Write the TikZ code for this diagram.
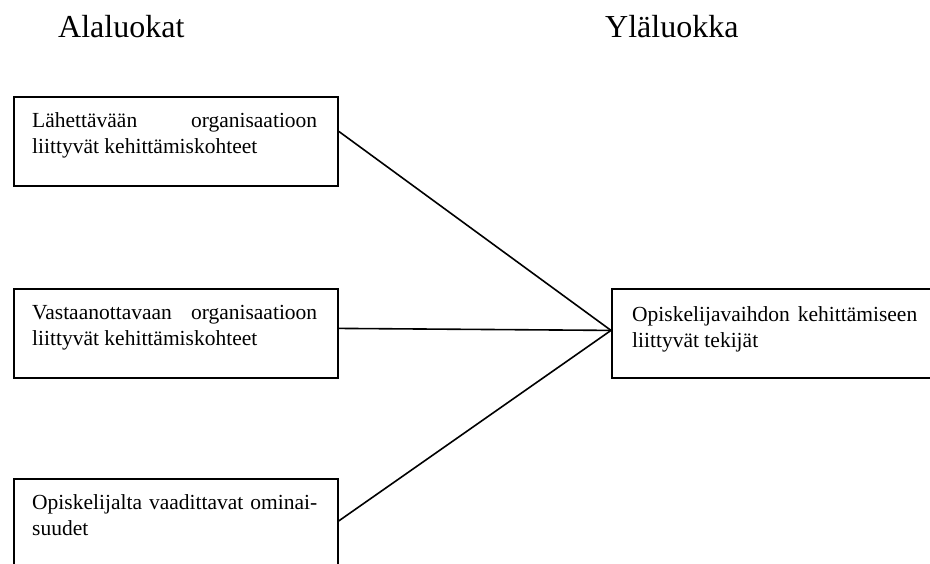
\documentclass[tikz,border=0pt]{standalone}
\usepackage{fontspec}
\setmainfont{Liberation Serif}
\newcommand\myboxfont{\fontsize{21.5pt}{26.5pt}\selectfont\hyphenpenalty=10000 \exhyphenpenalty=10000 }
\newcommand\myheadfont{\fontsize{32pt}{38pt}\selectfont}
\begin{document}
\begin{tikzpicture}[x=1pt,y=-1pt,
  box/.style={draw=black, line width=1.8pt, minimum width=324pt, minimum height=89pt, inner sep=0pt, anchor=north west},
  txt/.style={inner sep=0pt, anchor=base west, text width=285pt, align=justify, font=\myboxfont},
  head/.style={inner sep=0pt, anchor=base west, font=\myheadfont},
  link/.style={line width=1.6pt}]
\path[use as bounding box, clip] (0,0) rectangle (930,563);
\fill[white] (0,0) rectangle (930,563);
% headers
\node[head] (h1) at (58,37) {Alaluokat};
\node[head] (h2) at (605,37) {Yläluokka};
% boxes
\node[box] (b1) at (13,96) {};
\node[box] (b2) at (13,288) {};
\node[box] (b3) at (13,478) {};
\node[box] (b4) at (611,288) {};
% texts
\node[txt] (t1) at (32,127) {Lähettävään organisaatioon\linebreak liittyvät kehittämiskohteet};
\node[txt] (t2) at (32,319) {Vastaanottavaan organisaatioon\linebreak liittyvät kehittämiskohteet};
\node[txt] (t3) at (32,509) {Opiskelijalta vaadittavat ominai-\linebreak suudet};
\node[txt] (t4) at (632,321) {Opiskelijavaihdon kehittämiseen\linebreak liittyvät tekijät};
% connectors
\coordinate (c) at ([yshift=3pt]b4.west);
\draw[link] ([yshift=10pt]b1.east) -- (c);
\draw[link] ([yshift=5pt]b2.east) -- (c);
\draw[link] ([yshift=2.5pt]b3.east) -- (c);
\end{tikzpicture}
\end{document}
